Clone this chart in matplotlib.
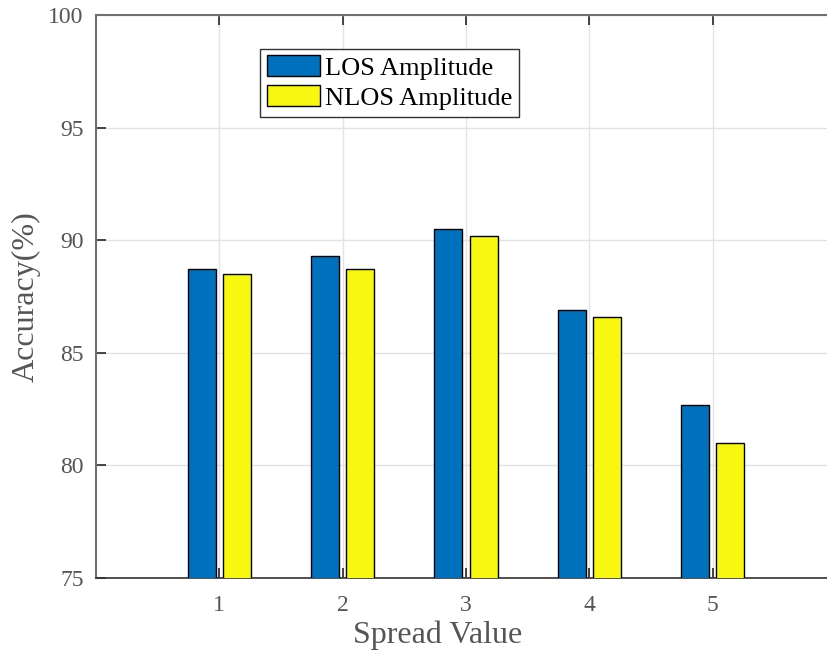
import numpy as np
import matplotlib
matplotlib.use("Agg")
import matplotlib.pyplot as plt

plt.rcParams['font.family'] = ['Liberation Serif', 'DejaVu Serif']

spread = [1, 2, 3, 4, 5]
los_amp = [88.7, 89.3, 90.5, 86.9, 82.7]
nlos_amp = [88.5, 88.7, 90.2, 86.6, 81.0]

fig = plt.figure(figsize=(8.27, 6.51), dpi=100)
# axes runs a bit past the right edge, like the original export
ax = fig.add_axes([96 / 827, 1 - 578 / 651, 740 / 827, 563 / 651])

x = np.array(spread)
w = 0.229
off = 0.143
ax.bar(x - off, los_amp, w, color='#0072BD', edgecolor='black',
       linewidth=1.0, label='LOS Amplitude', zorder=3)
ax.bar(x + off, nlos_amp, w, color='#F7F70F', edgecolor='black',
       linewidth=1.0, label='NLOS Amplitude', zorder=3)

ax.set_xlim(0, 6)
ax.set_ylim(75, 100)
ax.set_xticks(spread)
ax.set_yticks([75, 80, 85, 90, 95, 100])
ax.grid(True, color='#e3e3e3', linewidth=1.0, zorder=0)
ax.set_axisbelow(True)

ax.tick_params(direction='in', length=7, width=1.2, colors='#262626',
               labelcolor='#555555', labelsize=17, top=True, right=False)
ax.tick_params(axis='x', pad=12)
ax.tick_params(axis='y', pad=9)
for side in ['left', 'top']:
    ax.spines[side].set_color('#707070')
    ax.spines[side].set_linewidth(1.5)
ax.spines['bottom'].set_color('#333333')
ax.spines['bottom'].set_linewidth(1.2)
ax.spines['right'].set_visible(False)

ax.set_xlabel('Spread Value', fontsize=23, color='#555555')
ax.set_ylabel('Accuracy(%)', fontsize=23, color='#555555')
ax.xaxis.set_label_coords(0.4615, -0.076)
ax.yaxis.set_label_coords(-0.074, 0.5)

leg = ax.legend(loc='upper left', bbox_to_anchor=(0.222, 0.94), borderaxespad=0,
                fontsize=19, fancybox=False, framealpha=1, edgecolor='#333333',
                handlelength=2.0, handleheight=0.85, handletextpad=0.2,
                labelspacing=0.2, borderpad=0.25)
leg.get_frame().set_linewidth(1.0)

fig.savefig('out.png', dpi=100)
